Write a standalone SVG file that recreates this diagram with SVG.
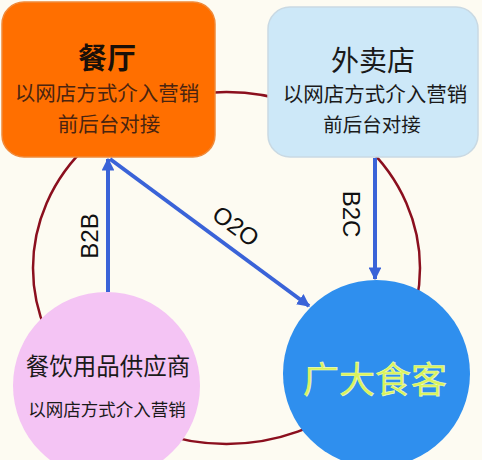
<svg xmlns="http://www.w3.org/2000/svg" width="482" height="460" viewBox="0 0 482 460">
<defs>
<style>
.t{font-family:"Noto Sans CJK SC","Liberation Sans",sans-serif;text-anchor:middle;dominant-baseline:central}
.lbl{font-family:"Liberation Sans",Arial,sans-serif;font-size:24px;fill:#111;text-anchor:middle;dominant-baseline:central}
.blue{stroke:#3A63D8;stroke-width:4;fill:none}
</style>
<marker id="ah" viewBox="0 0 10 10" refX="9" refY="5" markerWidth="3.2" markerHeight="3.2" markerUnits="strokeWidth" orient="auto">
<path d="M0,0 L10,5 L0,10 z" fill="#3A63D8"/>
</marker>
</defs>
<rect width="482" height="460" fill="#FDFBF2"/>
<ellipse id="ring" cx="226.5" cy="268" rx="193.5" ry="176" fill="none" stroke="#8B0F1E" stroke-width="2.5"/>
<g id="canting">
<rect x="2" y="2" width="213" height="155" rx="22" fill="#FF6F00" stroke="#F08A3A" stroke-width="1.5"/>
<text class="t" x="107" y="56" font-size="29" font-weight="bold" fill="#1a1008">餐厅</text>
<text class="t" x="107" y="92" font-size="20.5" fill="#4A2410">以网店方式介入营销</text>
<text class="t" x="109" y="123" font-size="20.5" fill="#4A2410">前后台对接</text>
</g>
<g id="waimai">
<rect x="268" y="7" width="210" height="150" rx="22" fill="#CDE8F8" stroke="#C9D9E3" stroke-width="1.5"/>
<text class="t" x="373" y="59" font-size="28" fill="#1a1a1a">外卖店</text>
<text class="t" x="375" y="93" font-size="20.5" fill="#1a1a1a">以网店方式介入营销</text>
<text class="t" x="372" y="123" font-size="19.5" fill="#1a1a1a">前后台对接</text>
</g>
<g id="supplier">
<circle cx="106.5" cy="385.5" r="93.5" fill="#F4C4F4"/>
<text class="t" x="108" y="365" font-size="23.5" fill="#1a1a1a">餐饮用品供应商</text>
<text class="t" x="107" y="408" font-size="17.5" fill="#1a1a1a">以网店方式介入营销</text>
</g>
<g id="customers">
<circle cx="376.5" cy="373.5" r="93.5" fill="#2F8FEE"/>
<text class="t" x="375" y="377" font-size="36" fill="#D9F25A" stroke="#F0FFB0" stroke-width="0.6">广大食客</text>
</g>
<g id="connectors">
<line class="blue" x1="108" y1="292" x2="108" y2="159" marker-end="url(#ah)"/>
<line class="blue" x1="375" y1="158" x2="375" y2="279" marker-end="url(#ah)"/>
<line class="blue" x1="110" y1="159" x2="309" y2="306" marker-end="url(#ah)"/>
<text class="lbl" transform="translate(89,236) rotate(-90)">B2B</text>
<text class="lbl" transform="translate(351,214) rotate(90)">B2C</text>
<text class="lbl" transform="translate(236,226) rotate(36.5)">O2O</text>
</g>
</svg>
